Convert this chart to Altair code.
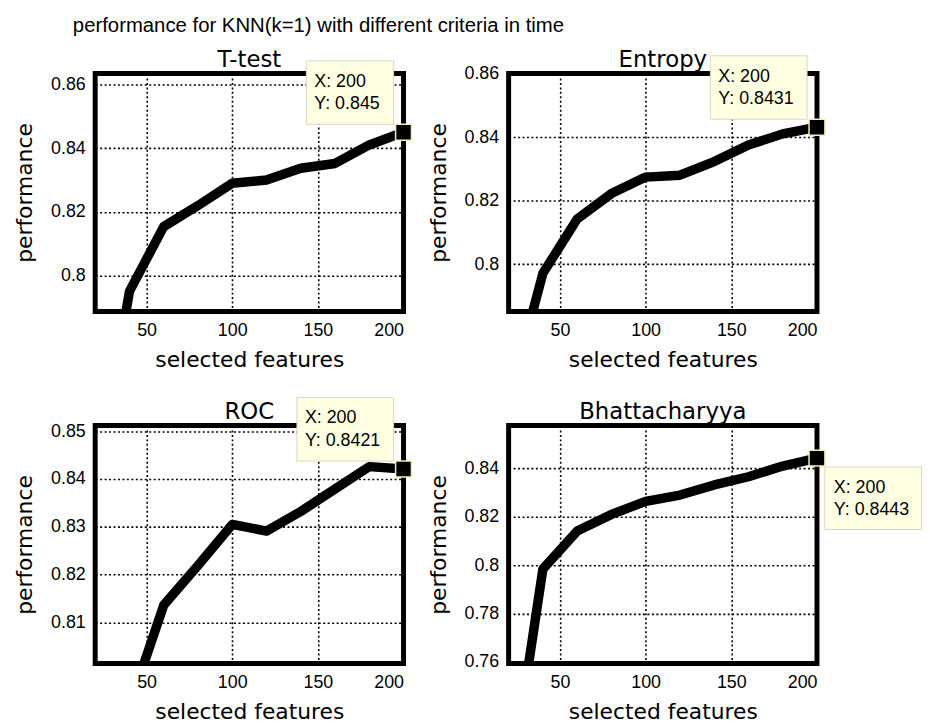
import altair as alt
import pandas as pd

# Number of selected features used by the KNN(k=1) classifier
features = [20, 40, 60, 80, 100, 120, 140, 160, 180, 200]

# Classification performance per feature-ranking criterion
ttest_perf = [0.732, 0.7951, 0.8154, 0.822, 0.829, 0.830, 0.8337, 0.8352, 0.841, 0.845]
entropy_perf = [0.7565, 0.7971, 0.8142, 0.8222, 0.8274, 0.828, 0.8323, 0.8375, 0.841, 0.8431]
roc_perf = [0.75, 0.7924, 0.8136, 0.8219, 0.8305, 0.8291, 0.8332, 0.8379, 0.8426, 0.8421]
bhatt_perf = [0.704, 0.7984, 0.8141, 0.821, 0.8264, 0.829, 0.8332, 0.8366, 0.841, 0.8443]

# Axis limits and tick values of each panel
x_limits = [20, 200]
x_ticks = [50, 100, 150, 200]
ttest_limits = [0.7888, 0.8634]
entropy_limits = [0.7851, 0.86]
roc_limits = [0.8014, 0.8512]
bhatt_limits = [0.7593, 0.8578]
ttest_ticks = [0.8, 0.82, 0.84, 0.86]
entropy_ticks = [0.8, 0.82, 0.84, 0.86]
roc_ticks = [0.81, 0.82, 0.83, 0.84, 0.85]
bhatt_ticks = [0.76, 0.78, 0.8, 0.82, 0.84]

PANEL_W, PANEL_H = 311, 240
LABEL_FONT = "Liberation Sans"
TITLE_FONT = "DejaVu Sans"
TIP_FILL = "#FFFFE1"
TIP_EDGE = "#D6D6C8"


def panel(name, values, limits, ticks, tip_below=False):
    df = pd.DataFrame({"features": features, "performance": values})
    last = df.iloc[[-1]].copy()
    last["xlab"] = "X: %d" % last["features"].iloc[0]
    last["ylab"] = "Y: %g" % last["performance"].iloc[0]

    x = alt.X(
        "features:Q",
        scale=alt.Scale(domain=x_limits, nice=False, zero=False),
        axis=alt.Axis(values=x_ticks, title="selected features", titlePadding=11),
    )
    y = alt.Y(
        "performance:Q",
        scale=alt.Scale(domain=limits, nice=False, zero=False),
        axis=alt.Axis(values=ticks, format=".2~f", title="performance"),
    )

    line = alt.Chart(df).mark_line(
        color="black", strokeWidth=9.5, strokeJoin="round", clip=True
    ).encode(x=x, y=y)

    # panel heading, sitting just above the frame
    heading = alt.Chart(pd.DataFrame({"criterion": [name]})).mark_text(
        font=TITLE_FONT, fontSize=23, align="center", baseline="alphabetic",
        color="black",
    ).encode(x=alt.value(PANEL_W / 2), y=alt.value(-7), text="criterion:N")

    # data tip: box + two text lines anchored at the last point
    w = 9.5 * len(last["ylab"].iloc[0]) + 12
    if tip_below:
        bx0, bx1, by0, by1 = 8, 8 + w, 9, 72
        tx, ty1, ty2 = 17, 35, 57
    else:
        bx0, bx1, by0, by1 = -(10 + w), -10, -72, -8
        tx, ty1, ty2 = -(10 + w) + 8, -46, -23

    tip = alt.Chart(last)
    box = tip.mark_rect(
        fill=TIP_FILL, stroke=TIP_EDGE, strokeWidth=1,
        xOffset=bx0, x2Offset=bx1, yOffset=by0, y2Offset=by1,
    ).encode(
        x="features:Q", x2="features", y="performance:Q", y2="performance"
    )
    txt_style = dict(align="left", baseline="alphabetic", font=LABEL_FONT,
                     fontSize=18, color="black")
    t1 = tip.mark_text(dx=tx, dy=ty1, **txt_style).encode(
        x="features:Q", y="performance:Q", text="xlab:N")
    t2 = tip.mark_text(dx=tx, dy=ty2, **txt_style).encode(
        x="features:Q", y="performance:Q", text="ylab:N")
    marker = tip.mark_square(
        size=256, filled=True, color="black", stroke="#F2EEB8", strokeWidth=1.5,
        opacity=1,
    ).encode(x="features:Q", y="performance:Q")

    return alt.layer(line, heading, box, t1, t2, marker).properties(
        width=PANEL_W, height=PANEL_H
    )


chart = alt.concat(
    panel("T-test", ttest_perf, ttest_limits, ttest_ticks),
    panel("Entropy", entropy_perf, entropy_limits, entropy_ticks),
    panel("ROC", roc_perf, roc_limits, roc_ticks),
    panel("Bhattacharyya", bhatt_perf, bhatt_limits, bhatt_ticks, tip_below=True),
    columns=2,
    spacing={"row": 115, "column": 106},
    bounds="flush",
).properties(
    title=alt.TitleParams(
        "performance for KNN(k=1) with different criteria in time",
        font=LABEL_FONT, fontSize=20.5, fontWeight="normal", color="black",
        anchor="start", frame="bounds", offset=10, dx=62,
    ),
    padding={"left": 11, "top": 13, "right": 5, "bottom": 5},
    background="white",
).configure_view(
    stroke="black", strokeWidth=5
).configure_axis(
    labelFont=LABEL_FONT, labelFontSize=18, labelColor="black",
    titleFont=TITLE_FONT, titleFontSize=22, titleFontWeight="normal",
    titleColor="black",
    grid=True, gridColor="black", gridDash=[2, 2.5], gridWidth=1.6, gridOpacity=1,
    domain=False, ticks=False, tickSize=0, labelPadding=10, titlePadding=14,
)

chart.save("out.html", embed_options={"renderer": "svg", "actions": False})
